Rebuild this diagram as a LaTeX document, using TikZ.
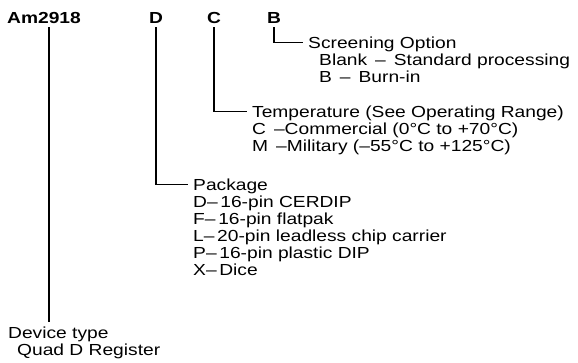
\documentclass[tikz,border=0pt]{standalone}
\usepackage{fontspec}
\setmainfont{Liberation Sans}[FakeStretch=1.2]
\usetikzlibrary{positioning}

\begin{document}
\begin{tikzpicture}[x=1pt, y=-1pt,
        code/.style={font=\bfseries\fontsize{16}{17}\selectfont, anchor=base,
            inner xsep=0pt, inner ysep=4pt, text depth=0pt},
        txt/.style={font=\fontsize{16}{17}\selectfont, anchor=base west,
            inner sep=0pt, text height=11.5pt, text depth=0pt},
        lead/.style={line width=1.3pt, shorten >=5pt}]
                \useasboundingbox (0, 0) rectangle (578, 362);

                % part number fields
                \node[code] (am) at (44, 23) {Am2918};
                \node[code] (pk) at (156, 23) {D};
                \node[code] (tc) at (214, 23) {C};
                \node[code] (sc) at (274, 23) {B};

                % screening
                \node[txt] (scr) at (308, 48.5) {Screening Option};
                \node[txt] (scr1) at (319, 65.5) {Blank \,–\, Standard processing};
                \node[txt] (scr2) at (319, 82.5) {B \,–\, Burn-in};

                % temperature
                \node[txt] (temp) at (252, 117.5) {Temperature (See Operating Range)};
                \node[txt] (temp1) at (252, 134.5) {C \,–Commercial (0°C to +70°C)};
                \node[txt] (temp2) at (252, 151.5) {M \,–Military (–55°C to +125°C)};

                % package
                \node[txt] (pkg) at (193, 190.5) {Package};
                \node[txt] (pkg1) at (193, 207.5) {D–\,16-pin CERDIP};
                \node[txt] (pkg2) at (193, 224.5) {F–\,16-pin flatpak};
                \node[txt] (pkg3) at (193, 241.5) {L–\,20-pin leadless chip carrier};
                \node[txt] (pkg4) at (193, 258.5) {P–\,16-pin plastic DIP};
                \node[txt] (pkg5) at (193, 275.5) {X–\,Dice};

                % device type
                \node[txt] (dev) at (8, 338.5) {Device type};
                \node[txt] (dev1) at (17, 355.5) {Quad D Register};

                \coordinate (amx) at (49, 0);
                \draw[lead] (am.south -| amx) -- (dev.north -| amx);
                \draw[lead] (pk.south) |- (pkg.west);
                \draw[lead] (tc.south) |- (temp.west);
                \draw[lead] (sc.south) |- (scr.west);
            \end{tikzpicture}
\end{document}
